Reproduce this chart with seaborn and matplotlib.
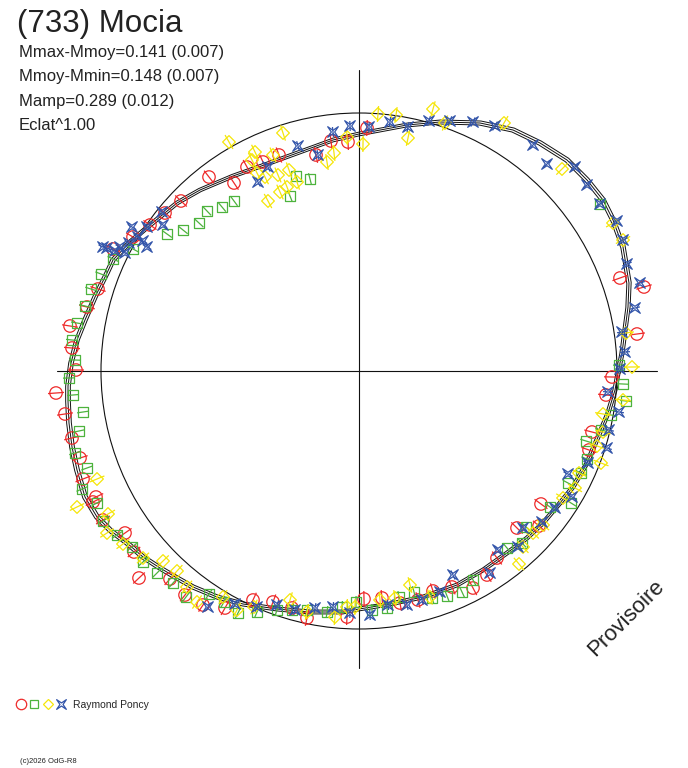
import numpy as np
import matplotlib
matplotlib.use("Agg")
import matplotlib.pyplot as plt
import seaborn as sns
from matplotlib.patches import Circle
from matplotlib.path import Path
from matplotlib.collections import LineCollection
from matplotlib.lines import Line2D
from matplotlib.legend_handler import HandlerTuple

# polar lightcurve, projected on x/y (phase = angle, brightness = radius)
red_pts = [
    (-246, 122), (-226, 134), (-209, 146), (-194, 158), (-178, 170), (-150, 194), (-125, 188),
    (-112, 204), (-96, 209), (-80, 216), (-43, 216), (-28, 230), (-11, 229), (8, 243),
    (261, 93), (285, 84), (278, 37), (253, -6), (247, -24), (233, -61), (230, -79), (182, -133),
    (180, -155), (158, -157), (138, -187), (128, -204), (114, -217), (93, -216), (74, -220),
    (59, -229), (41, -232), (23, -227), (5, -228), (-12, -246),
    (-266, -131), (-256, -149), (-234, -162), (-225, -181), (-220, -207), (-189, -208),
    (-174, -224), (-156, -234), (-134, -237), (-106, -229), (-86, -231), (-67, -237), (-52, -247),
    (-261, 82), (-272, 64), (-289, 45), (-287, 23), (-283, 1), (-303, -22), (-294, -43),
    (-287, -67), (-279, -87), (-276, -108), (-263, -126),
]
green_pts = [
    (-192, 137), (-176, 141), (-160, 148), (-152, 160), (-137, 164), (-125, 170), (-63, 195),
    (-49, 192), (-69, 175), (-246, 112), (241, 167),
    (260, 6), (264, -13), (267, -30), (252, -44), (242, -59), (227, -70), (228, -88), (222, -102),
    (209, -112), (212, -132), (191, -136), (167, -156), (163, -172),
    (148, -177), (114, -209), (103, -221), (88, -225), (73, -227), (55, -221), (40, -226),
    (28, -237), (13, -239), (-3, -231), (-17, -236),
    (-262, -132), (-256, -150), (-242, -164), (-227, -176), (-216, -191), (-202, -202),
    (-186, -212), (-173, -226), (-150, -223), (-135, -231), (-121, -242), (-102, -241),
    (-82, -239), (-67, -239), (-52, -239), (-32, -241),
    (-226, 122), (-258, 97), (-268, 82), (-274, 65), (-282, 48), (-287, 31), (-284, 11),
    (-290, -7), (-286, -24), (-276, -41), (-280, -60), (-284, -82), (-272, -97), (-277, -118),
]
yellow_pts = [
    (-130, 229), (-76, 238), (-104, 219), (-107, 211), (-86, 216), (-102, 198), (-94, 194),
    (-81, 196), (-70, 201), (-62, 189), (-72, 184), (-79, 179), (-91, 170), (-32, 209),
    (-25, 218), (-12, 234),
    (19, 257), (37, 256), (49, 233), (74, 262), (4, 227), (86, 248), (145, 248), (203, 202),
    (254, 148), (264, 131),
    (267, 38), (273, 4), (264, -29), (244, -43), (244, -61), (238, -75), (242, -92), (220, -102),
    (216, -117), (204, -127), (174, -162), (164, -176),
    (184, -154), (160, -193), (51, -214), (36, -227), (71, -226), (21, -229), (-4, -236), (-12, -236),
    (-282, -136), (-251, -143), (-252, -162), (-236, -173), (-216, -187), (-196, -190),
    (-182, -200), (-172, -216), (-162, -231), (-136, -226), (-122, -239), (-105, -236),
    (-69, -229), (-52, -241), (-24, -246), (-262, -108),
]
blue_pts = [
    (-252, 123), (-239, 124), (-234, 118), (-227, 144), (-221, 134), (-212, 124), (-212, 144),
    (-197, 159), (-196, 146), (-101, 189), (-91, 204), (-61, 225), (-41, 216), (-26, 239), (-9, 245),
    (-256, 124), (-244, 120), (-230, 128), (-216, 130),
    (10, 244), (31, 249), (49, 244), (70, 250), (91, 250), (114, 249), (136, 245), (174, 226),
    (188, 207), (216, 204), (228, 186), (241, 167), (258, 150), (264, 131), (268, 107), (281, 88),
    (276, 63), (263, 39), (266, 19), (261, 2), (249, -21), (260, -41), (250, -59), (248, -77),
    (229, -92), (209, -103), (213, -126), (196, -137), (183, -151), (164, -157),
    (159, -176), (139, -179), (131, -202), (94, -204), (81, -221), (63, -229), (48, -234),
    (29, -234), (11, -244), (-9, -242),
    (-151, -236), (-124, -233), (-102, -236), (-82, -234), (-64, -239), (-44, -237), (-26, -236),
]
# fitted lightcurve
curve_pts = [
    (259, -2), (263, 18), (266, 41), (269, 64), (270, 88), (264, 124), (254, 151), (244, 171),
    (228, 191), (208, 211), (181, 228), (154, 241), (121, 248), (81, 249), (48, 246), (0, 237),
    (-26, 231), (-59, 219), (-92, 207), (-126, 195), (-159, 181), (-182, 168), (-209, 146),
    (-229, 129), (-246, 111), (-252, 98), (-264, 74), (-274, 51), (-282, 31), (-288, 8),
    (-291, -15), (-291, -30), (-290, -52), (-287, -76), (-282, -99), (-274, -126), (-262, -146),
    (-248, -160), (-232, -172), (-216, -186), (-199, -197), (-182, -207), (-166, -216),
    (-142, -226), (-116, -233), (-82, -238), (-49, -241), (-16, -241), (0, -238), (31, -233),
    (64, -226), (98, -214), (124, -199), (148, -182), (168, -167), (184, -152), (201, -132),
    (214, -116), (228, -92), (239, -66), (249, -42), (256, -19),
]
curve_band = [0.992, 1.0, 1.008]
ref_radius = 258

subtitle = ["Mmax-Mmoy=0.141 (0.007)", "Mmoy-Mmin=0.148 (0.007)", "Mamp=0.289 (0.012)", "Eclat^1.00"]

sns.set_style("white")
plt.rcParams['font.family'] = ['Liberation Sans', 'DejaVu Sans']

RED, GREEN, YELLOW, BLUE = '#ee2a2a', '#4db33d', '#f5e60a', '#3355aa'

star = Path([(1, 1), (0, 0.32), (-1, 1), (-0.32, 0), (-1, -1), (0, -0.32), (1, -1), (0.32, 0), (1, 1)],
            [Path.MOVETO] + [Path.LINETO] * 7 + [Path.CLOSEPOLY])

fig = plt.figure(figsize=(6.88, 7.68), dpi=100)
ax = fig.add_axes([0, 0, 1, 1])
ax.axis('off')

# reference circle and axes cross
ax.add_patch(Circle((0, 0), ref_radius, fill=False, color='#111111', lw=0.8))
ax.plot([-302, 298], [0, 0], color='#111111', lw=0.8)
ax.plot([0, 0], [-297, 301], color='#111111', lw=0.8)

c = np.array(curve_pts + curve_pts[:1], dtype=float)
for f in curve_band:
    ax.plot(c[:, 0] * f, c[:, 1] * f, color='#111111', lw=0.7)

series = [
    (red_pts, RED, 'o', 80, 8),
    (green_pts, GREEN, 's', 46, 6),
    (yellow_pts, YELLOW, 'D', 42, 8),
    (blue_pts, BLUE, star, 58, 5),
]
for pts, col, mk, size, err in series:
    p = np.array(pts, dtype=float)
    sns.scatterplot(x=p[:, 0], y=p[:, 1], marker=mk, s=size, facecolors='none',
                    edgecolor=col, linewidth=0.9, ax=ax, zorder=3)
    u = p / np.hypot(p[:, 0], p[:, 1])[:, None]
    segs = np.stack([p - err * u, p + err * u], axis=1)
    ax.add_collection(LineCollection(segs, colors=col, linewidths=0.9, zorder=3))

ax.set_xlim(-359, 329)
ax.set_ylim(-397, 371)

# texts
fig.text(17 / 688, 1 - 32 / 768, "(733) Mocia", fontsize=22.5, color='#222222', va='baseline')
for i, line in enumerate(subtitle):
    fig.text(19 / 688, 1 - (57 + 24.5 * i) / 768, line, fontsize=12, color='#222222', va='baseline')
fig.text(626 / 688, 1 - 618 / 768, "Provisoire", fontsize=16, rotation=45, color='#222222',
         ha='center', va='center')
fig.text(20 / 688, 1 - 763 / 768, "(c)2026 OdG-R8", fontsize=5.5, color='#222222', va='baseline')

h = (Line2D([], [], marker='o', ls='', mfc='none', mec=RED, ms=7.5, mew=0.9),
     Line2D([], [], marker='s', ls='', mfc='none', mec=GREEN, ms=5.5, mew=0.9),
     Line2D([], [], marker='D', ls='', mfc='none', mec=YELLOW, ms=5.5, mew=0.9),
     Line2D([], [], marker=star, ls='', mfc='none', mec=BLUE, ms=7, mew=0.9))
fig.legend([h], ["Raymond Poncy"], handler_map={tuple: HandlerTuple(ndivide=None, pad=0.1)},
           loc='center left', bbox_to_anchor=(15 / 688, 1 - 705 / 768), frameon=False,
           fontsize=7.5, handlelength=5.0, handletextpad=0.6, borderpad=0, borderaxespad=0)

fig.savefig("out.png", dpi=100)
